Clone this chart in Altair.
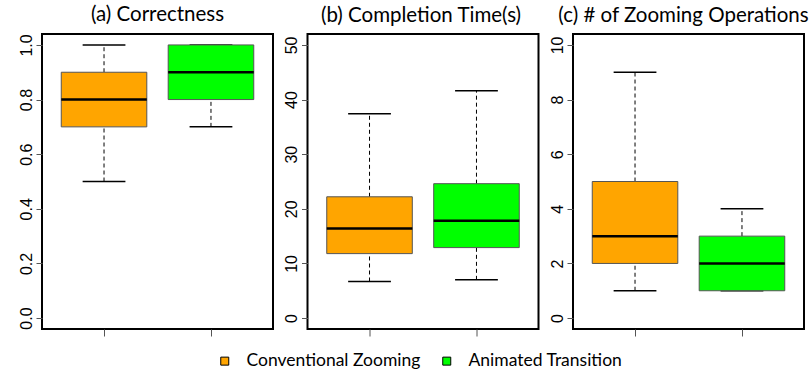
import altair as alt
import pandas as pd

# Groups compared in every panel and their box colours
groups = ["Conventional Zooming", "Animated Transition"]
colors = ["#FFA500", "#00FF00"]
positions = [1, 2]

# Five-number summaries per panel: lower whisker, Q1, median, Q3, upper whisker
corr_lower = [0.5, 0.7]
corr_q1 = [0.7, 0.8]
corr_median = [0.8, 0.9]
corr_q3 = [0.9, 1.0]
corr_upper = [1.0, 1.0]

time_lower = [6.7, 7.0]
time_q1 = [11.8, 12.9]
time_median = [16.4, 17.8]
time_q3 = [22.2, 24.6]
time_upper = [37.4, 41.6]

zoom_lower = [1, 1]
zoom_q1 = [2, 1]
zoom_median = [3, 2]
zoom_q3 = [5, 3]
zoom_upper = [9, 4]

# Panel titles (with a small horizontal nudge), y ranges and tick values
titles = ["(a) Correctness", "(b) Completion Time(s)", "(c) # of Zooming Operations"]
title_dx = [0, -2, -5]
y_ticks_a = [0.0, 0.2, 0.4, 0.6, 0.8, 1.0]
y_ticks_b = [0, 10, 20, 30, 40, 50]
y_ticks_c = [0, 2, 4, 6, 8, 10]

W, H = 231, 295
TITLE_FONT = "Lato"
TICK_FONT = "Liberation Sans, Arial, sans-serif"


def summary_table(lower, q1, median, q3, upper):
    return pd.DataFrame({
        "group": groups, "pos": positions, "lower": lower, "q1": q1,
        "median": median, "q3": q3, "upper": upper,
    })


def box_panel(df, title, dx, ticks, fmt):
    lo, hi = ticks[0], ticks[-1]
    pad = (hi - lo) * 0.04
    yscale = alt.Scale(domain=[lo - pad, hi + pad], nice=False, zero=False)
    xscale = alt.Scale(domain=[0.42, 2.58], nice=False, zero=False)
    xaxis = alt.Axis(values=positions, labels=False, title=None, domain=False,
                     grid=False, ticks=True, tickSize=7)
    yaxis = alt.Axis(values=ticks, format=fmt, title=None, domain=False, grid=False,
                     tickSize=6, labelAngle=270, labelAlign="center",
                     labelBaseline="alphabetic", labelPadding=5)

    base = alt.Chart(df).transform_calculate(
        left="datum.pos - 0.4", right="datum.pos + 0.4",
        cap_l="datum.pos - 0.2", cap_r="datum.pos + 0.2",
    )

    upper_whisker = base.mark_rule(color="black", strokeWidth=1, strokeDash=[4, 3]).encode(
        x=alt.X("pos:Q", scale=xscale, axis=xaxis),
        y=alt.Y("q3:Q", scale=yscale, axis=yaxis),
        y2="upper:Q",
    )
    lower_whisker = base.mark_rule(color="black", strokeWidth=1, strokeDash=[4, 3]).encode(
        x="pos:Q", y="lower:Q", y2="q1:Q",
    )
    cap_top = base.mark_rule(color="black", strokeWidth=1.5).encode(
        x="cap_l:Q", x2="cap_r:Q", y="upper:Q",
    )
    cap_bottom = base.mark_rule(color="black", strokeWidth=1.5).encode(
        x="cap_l:Q", x2="cap_r:Q", y="lower:Q",
    )
    box = base.mark_rect(stroke="#555555", strokeWidth=1).encode(
        x="left:Q", x2="right:Q", y="q1:Q", y2="q3:Q",
        color=alt.Color("group:N", scale=alt.Scale(domain=groups, range=colors),
                        legend=alt.Legend(title=None)),
    )
    median = base.mark_rule(color="black", strokeWidth=2.5).encode(
        x="left:Q", x2="right:Q", y="median:Q",
    )
    return alt.layer(upper_whisker, lower_whisker, cap_top, cap_bottom, box, median).properties(
        width=W, height=H, title=alt.TitleParams(title, dx=dx),
    )


panel_a = box_panel(summary_table(corr_lower, corr_q1, corr_median, corr_q3, corr_upper),
                    titles[0], title_dx[0], y_ticks_a, ".1f")
panel_b = box_panel(summary_table(time_lower, time_q1, time_median, time_q3, time_upper),
                    titles[1], title_dx[1], y_ticks_b, "d")
panel_c = box_panel(summary_table(zoom_lower, zoom_q1, zoom_median, zoom_q3, zoom_upper),
                    titles[2], title_dx[2], y_ticks_c, "d")

chart = alt.hconcat(panel_a, panel_b, panel_c, spacing=34.5, bounds="flush").properties(
    padding={"left": 16, "top": 4, "right": 0, "bottom": 0},
    background="white",
).configure_view(
    stroke="black", strokeWidth=2,
).configure_axis(
    tickColor="#555555", tickWidth=1,
    labelFont=TICK_FONT, labelFontSize=16, labelColor="#000000",
).configure_title(
    font=TITLE_FONT, fontSize=20.5, fontWeight="normal", color="black",
    anchor="middle", offset=8,
).configure_legend(
    orient="none", legendX=174, legendY=318, direction="horizontal",
    symbolType="square", symbolSize=64, symbolStrokeColor="black", symbolStrokeWidth=1,
    symbolOpacity=1, labelFont=TITLE_FONT, labelFontSize=17.5, labelColor="black",
    labelOffset=13, columnPadding=17, labelLimit=0,
)

chart.save("out.html", embed_options={"renderer": "svg", "actions": False})
